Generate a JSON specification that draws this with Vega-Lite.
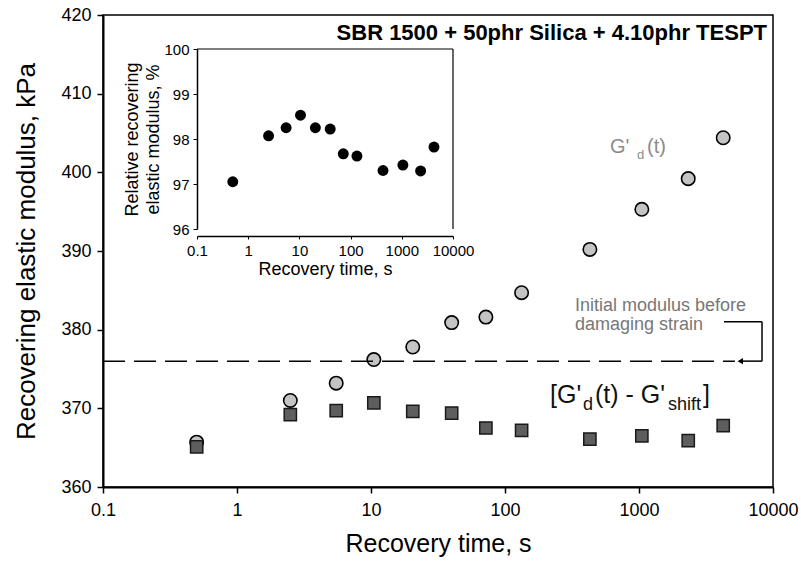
{
  "$schema": "https://vega.github.io/schema/vega-lite/v6.json",
  "width": 670,
  "height": 472,
  "autosize": {"type": "none"},
  "padding": {"left": 103, "top": 15, "right": 28, "bottom": 79},
  "background": "white",
  "config": {
    "font": "Liberation Sans",
    "view": {"stroke": "black", "strokeWidth": 1.5},
    "axis": {"grid": false, "domainColor": "black", "tickColor": "black", "labelColor": "black", "titleColor": "black", "titleFontWeight": "normal", "labelFont": "Liberation Sans", "titleFont": "Liberation Sans", "labelFlush": false}
  },
  "datasets": {
    "pts": [
      {"t": 0.5, "g": 365.7, "s": 365.1, "r": 97.05},
      {"t": 2.5, "g": 371.0, "s": 369.2, "r": 98.07},
      {"t": 5.5, "g": 373.2, "s": 369.7, "r": 98.25},
      {"t": 10.5, "g": 376.2, "s": 370.7, "r": 98.53},
      {"t": 20.5, "g": 377.8, "s": 369.6, "r": 98.25},
      {"t": 40, "g": 380.9, "s": 369.4, "r": 98.22},
      {"t": 72, "g": 381.6, "s": 367.5, "r": 97.67},
      {"t": 133, "g": 384.7, "s": 367.2, "r": 97.62},
      {"t": 430, "g": 390.2, "s": 366.1, "r": 97.3},
      {"t": 1050, "g": 395.3, "s": 366.5, "r": 97.42},
      {"t": 2330, "g": 399.2, "s": 365.9, "r": 97.29},
      {"t": 4250, "g": 404.4, "s": 367.8, "r": 97.82}
    ],
    "one": [{}]
  },
  "layer": [
    {
      "layer": [
        {
          "data": {"name": "pts"},
          "mark": {"type": "point", "shape": "circle", "filled": true, "size": 180, "fill": "#c4c4c4", "stroke": "black", "strokeWidth": 1.6, "opacity": 1},
          "encoding": {
            "x": {"field": "t", "type": "quantitative", "scale": {"type": "log", "domain": [0.1, 10000], "nice": false},
              "axis": {"title": "Recovery time, s", "values": [0.1, 1, 10, 100, 1000, 10000], "format": "~g", "labelFontSize": 18, "titleFontSize": 25, "tickSize": 6, "tickWidth": 1.5, "domainWidth": 2, "labelPadding": 8, "titlePadding": 12}},
            "y": {"field": "g", "type": "quantitative", "scale": {"domain": [360, 420], "nice": false, "zero": false},
              "axis": {"title": "Recovering elastic modulus, kPa", "values": [360, 370, 380, 390, 400, 410, 420], "format": "d", "labelFontSize": 18, "titleFontSize": 26, "tickSize": 6, "tickWidth": 1.5, "domainWidth": 2, "labelPadding": 6, "titlePadding": 21}}
          }
        },
        {
          "data": {"name": "pts"},
          "mark": {"type": "point", "shape": "square", "filled": true, "size": 150, "fill": "#5e5e5e", "stroke": "#1a1a1a", "strokeWidth": 1.5, "opacity": 1},
          "encoding": {
            "x": {"field": "t", "type": "quantitative"},
            "y": {"field": "s", "type": "quantitative"}
          }
        },
        {
          "data": {"name": "one"},
          "mark": {"type": "rule", "strokeDash": [22, 9], "strokeWidth": 1.5, "color": "black"},
          "encoding": {"x": {"datum": 0.1}, "x2": {"datum": 5200}, "y": {"datum": 376}}
        },
        {
          "data": {"name": "one"},
          "mark": {"type": "rule", "strokeWidth": 1.5, "color": "black"},
          "encoding": {"x": {"datum": 4306}, "x2": {"datum": 8280}, "y": {"datum": 381}}
        },
        {
          "data": {"name": "one"},
          "mark": {"type": "rule", "strokeWidth": 1.5, "color": "black"},
          "encoding": {"x": {"datum": 8280}, "y": {"datum": 381}, "y2": {"datum": 376}}
        },
        {
          "data": {"name": "one"},
          "mark": {"type": "rule", "strokeWidth": 1.5, "color": "black"},
          "encoding": {"x": {"datum": 5600}, "x2": {"datum": 8280}, "y": {"datum": 376}}
        },
        {
          "data": {"name": "one"},
          "mark": {"type": "point", "shape": "triangle-left", "filled": true, "size": 40, "color": "black", "opacity": 1},
          "encoding": {"x": {"datum": 5700}, "y": {"datum": 376}}
        },
        {
          "data": {"name": "one"},
          "mark": {"type": "text", "text": "SBR 1500 + 50phr Silica + 4.10phr TESPT", "align": "right", "baseline": "alphabetic", "fontSize": 22, "fontWeight": "bold", "color": "black"},
          "encoding": {"x": {"datum": 9020}, "y": {"datum": 416.8}}
        },
        {
          "data": {"name": "one"},
          "mark": {"type": "text", "text": "G'", "align": "left", "baseline": "alphabetic", "fontSize": 20, "color": "#8c8c8c"},
          "encoding": {"x": {"datum": 608}, "y": {"datum": 402.5}}
        },
        {
          "data": {"name": "one"},
          "mark": {"type": "text", "text": "d", "align": "left", "baseline": "alphabetic", "fontSize": 13, "dx": 27, "dy": 6, "color": "#8c8c8c"},
          "encoding": {"x": {"datum": 608}, "y": {"datum": 402.5}}
        },
        {
          "data": {"name": "one"},
          "mark": {"type": "text", "text": "(t)", "align": "left", "baseline": "alphabetic", "fontSize": 20, "dx": 37, "color": "#8c8c8c"},
          "encoding": {"x": {"datum": 608}, "y": {"datum": 402.5}}
        },
        {
          "data": {"name": "one"},
          "mark": {"type": "text", "text": "[G'", "align": "left", "baseline": "alphabetic", "fontSize": 25, "color": "#111111"},
          "encoding": {"x": {"datum": 216.8}, "y": {"datum": 370.7}}
        },
        {
          "data": {"name": "one"},
          "mark": {"type": "text", "text": "d", "align": "left", "baseline": "alphabetic", "fontSize": 18, "dx": 33, "dy": 7, "color": "#111111"},
          "encoding": {"x": {"datum": 216.8}, "y": {"datum": 370.7}}
        },
        {
          "data": {"name": "one"},
          "mark": {"type": "text", "text": "(t) - G'", "align": "left", "baseline": "alphabetic", "fontSize": 25, "dx": 45, "color": "#111111"},
          "encoding": {"x": {"datum": 216.8}, "y": {"datum": 370.7}}
        },
        {
          "data": {"name": "one"},
          "mark": {"type": "text", "text": "shift", "align": "left", "baseline": "alphabetic", "fontSize": 18, "dx": 118, "dy": 7, "color": "#111111"},
          "encoding": {"x": {"datum": 216.8}, "y": {"datum": 370.7}}
        },
        {
          "data": {"name": "one"},
          "mark": {"type": "text", "text": "]", "align": "left", "baseline": "alphabetic", "fontSize": 25, "dx": 153, "color": "#111111"},
          "encoding": {"x": {"datum": 216.8}, "y": {"datum": 370.7}}
        },
        {
          "data": {"name": "one"},
          "mark": {"type": "text", "text": ["Initial modulus before", "damaging strain"], "align": "left", "baseline": "alphabetic", "fontSize": 18, "lineHeight": 19, "color": "#777777"},
          "encoding": {"x": {"datum": 333}, "y": {"datum": 382.4}}
        }
      ]
    },
    {
      "layer": [
        {
          "data": {"name": "pts"},
          "mark": {"type": "point", "shape": "circle", "filled": true, "size": 120, "color": "black", "opacity": 1},
          "encoding": {
            "x": {"field": "t", "type": "quantitative", "scale": {"type": "log", "domain": [0.1, 10000], "range": [94, 350], "nice": false},
              "axis": {"orient": "bottom", "offset": -251, "title": "Recovery time, s", "values": [0.1, 1, 10, 100, 1000, 10000], "format": "~g", "labelFontSize": 15, "titleFontSize": 18, "tickSize": 3, "tickWidth": 1, "domainWidth": 1.5, "labelPadding": 4, "titlePadding": 2}},
            "y": {"field": "r", "type": "quantitative", "scale": {"domain": [96, 100], "range": [214, 34], "nice": false, "zero": false},
              "axis": {"orient": "left", "offset": -94, "title": ["Relative recovering", "elastic modulus, %"], "values": [96, 97, 98, 99, 100], "format": "d", "labelFontSize": 15, "titleFontSize": 18, "titleLineHeight": 21, "tickSize": 4, "tickWidth": 1, "domainWidth": 1.5, "labelPadding": 4, "titlePadding": 1}}
          }
        },
        {
          "data": {"name": "one"},
          "mark": {"type": "rule", "strokeWidth": 1.2, "color": "black"},
          "encoding": {"x": {"datum": 0.1}, "x2": {"datum": 10000}, "y": {"datum": 100}}
        },
        {
          "data": {"name": "one"},
          "mark": {"type": "rule", "strokeWidth": 1.2, "color": "black"},
          "encoding": {"x": {"datum": 10000}, "y": {"datum": 96}, "y2": {"datum": 100}}
        }
      ]
    }
  ],
  "resolve": {"scale": {"x": "independent", "y": "independent"}, "axis": {"x": "independent", "y": "independent"}}
}
